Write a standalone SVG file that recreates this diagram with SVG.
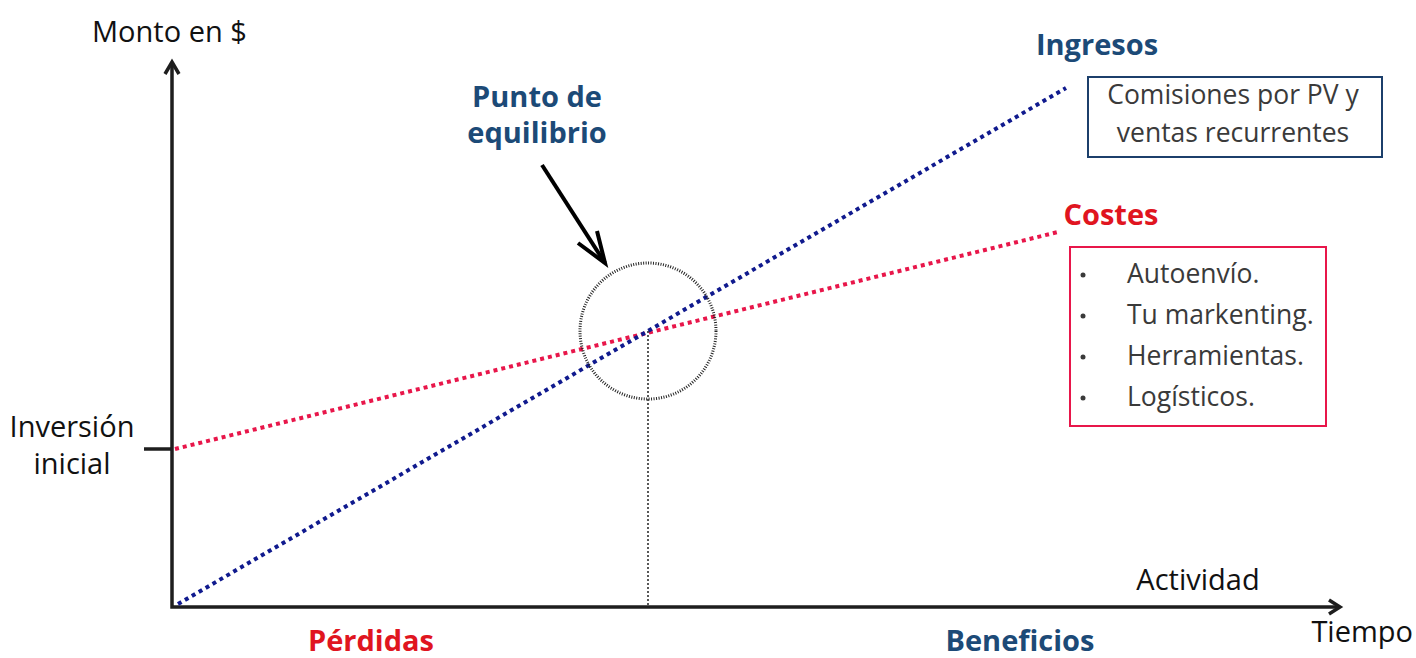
<svg xmlns="http://www.w3.org/2000/svg" width="1416" height="658" viewBox="0 0 1416 658">
<style>
.t{font-family:"Open Sans","Liberation Sans",sans-serif;}
.lbl{font-size:29px;fill:#111;}
.bold{font-weight:700;font-size:29px;}
.blue{fill:#1c4a77;}
.red{fill:#e0151f;}
.box{font-size:26.5px;fill:#3a3a3a;}
.axis{stroke:#1e1e1e;stroke-width:3.5;fill:none;}
.ing{stroke:#101a8e;stroke-width:4;stroke-dasharray:4 4;fill:none;}
.cos{stroke:#e8164a;stroke-width:4;stroke-dasharray:4 4;fill:none;}
</style>
<rect width="1416" height="658" fill="#fff"/>
<g id="connectors">
<path class="axis" d="M172,64 V607 H1338"/>
<path class="axis" d="M165,74 L172,62 L179,74"/>
<path class="axis" d="M1329,600 L1340,607 L1329,614"/>
<path class="axis" d="M144,449 H172"/>
<line class="cos" x1="175" y1="449" x2="1058" y2="232"/>
<line class="ing" x1="178" y1="604" x2="1066" y2="88"/>
<line x1="648" y1="331" x2="648" y2="605" stroke="#222" stroke-width="1.5" stroke-dasharray="2 2"/>
<circle cx="648" cy="331" r="68" fill="none" stroke="#222" stroke-width="3" stroke-dasharray="1 1.5"/>
<path d="M542,165 L605,263" stroke="#000" stroke-width="4" fill="none"/>
<path d="M578,243 L605,263 L597,231" stroke="#000" stroke-width="4" fill="none"/>
</g>
<g id="axis-labels" class="t">
<text class="lbl" x="92" y="42">Monto en $</text>
<text class="lbl" x="72" y="437" text-anchor="middle">Inversión</text>
<text class="lbl" x="72" y="474" text-anchor="middle">inicial</text>
<text class="lbl" x="1198" y="590" text-anchor="middle">Actividad</text>
<text class="lbl" x="1413" y="642" text-anchor="end">Tiempo</text>
<text class="bold red" x="371" y="651" text-anchor="middle">Pérdidas</text>
<text class="bold blue" x="1020" y="651" text-anchor="middle">Beneficios</text>
</g>
<g id="punto-equilibrio" class="t">
<text class="bold blue" x="537" y="107" text-anchor="middle">Punto de</text>
<text class="bold blue" x="537" y="143" text-anchor="middle">equilibrio</text>
</g>
<g id="ingresos" class="t">
<text class="bold blue" x="1097" y="55" text-anchor="middle">Ingresos</text>
<rect x="1088" y="77" width="294" height="80" fill="none" stroke="#1c3f6b" stroke-width="2"/>
<text class="box" x="1233" y="104" text-anchor="middle">Comisiones por PV y</text>
<text class="box" x="1233" y="142" text-anchor="middle">ventas recurrentes</text>
</g>
<g id="costes" class="t">
<text class="bold red" x="1111" y="225" text-anchor="middle">Costes</text>
<rect x="1070" y="247" width="256" height="179" fill="none" stroke="#e8164a" stroke-width="2"/>
<g class="box">
<circle cx="1083" cy="275" r="2.5" fill="#3a3a3a"/>
<circle cx="1083" cy="316" r="2.5" fill="#3a3a3a"/>
<circle cx="1083" cy="357" r="2.5" fill="#3a3a3a"/>
<circle cx="1083" cy="398" r="2.5" fill="#3a3a3a"/>
<text x="1127" y="283">Autoenvío.</text>
<text x="1127" y="324">Tu markenting.</text>
<text x="1127" y="365">Herramientas.</text>
<text x="1127" y="406">Logísticos.</text>
</g>
</g>
</svg>
